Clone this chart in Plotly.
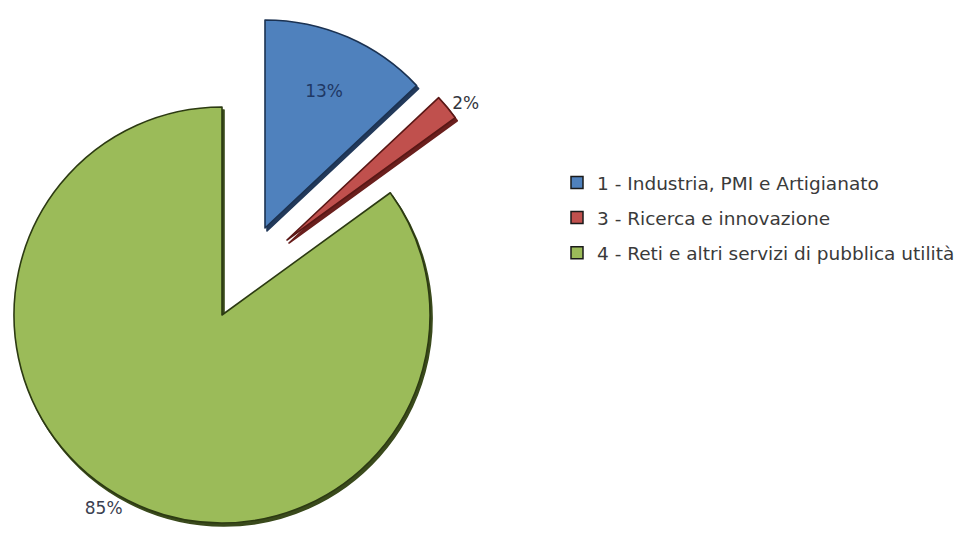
import plotly.graph_objects as go

# Funding share by intervention area
labels = [
    "1 - Industria, PMI e Artigianato",
    "3 - Ricerca e innovazione",
    "4 - Reti e altri servizi di pubblica utilità",
]
values = [13, 2, 85]

colors = ["#4f81bd", "#c0504d", "#9bbb59"]
edge_colors = ["#1b3252", "#5a1715", "#2c3a12"]
shadow_colors = ["#22395a", "#6a1f1d", "#3a4a1c"]
text_colors = ["#1f3864", "#333640", "#3a4050"]
text_pos = ["inside", "outside", "outside"]

W, H = 961, 533
R = 208  # pie radius in px
# apex of each exploded slice (px from top-left of the page)
apex = [(265, 228), (287, 240), (222, 315)]
SHADOW_DX, SHADOW_DY = 2, 3
CLEAR = "rgba(0,0,0,0)"
FONT = "DejaVu Sans"


def pie_domain(cx, cy):
    return dict(x=[(cx - R) / W, (cx + R) / W],
                y=[1 - (cy + R) / H, 1 - (cy - R) / H])


def slice_trace(k, shadow=False):
    """A full pie of the data in which only slice k is painted."""
    cx, cy = apex[k]
    if shadow:
        cx, cy = cx + SHADOW_DX, cy + SHADOW_DY
    fill = shadow_colors[k] if shadow else colors[k]
    n = len(values)
    return go.Pie(
        labels=labels,
        values=values,
        sort=False,
        direction="clockwise",
        rotation=0,
        domain=pie_domain(cx, cy),
        marker=dict(
            colors=[fill if i == k else CLEAR for i in range(n)],
            line=dict(
                color=[(shadow_colors[k] if shadow else edge_colors[k]) if i == k else CLEAR
                       for i in range(n)],
                width=[1.6 if i == k else 0 for i in range(n)],
            ),
        ),
        texttemplate=["" if (shadow or i != k) else "%{percent:.0%}" for i in range(n)],
        textposition=[text_pos[i] for i in range(n)],
        insidetextorientation="horizontal",
        textfont=dict(family=FONT, size=17, color=text_colors[k]),
        showlegend=False,
        hoverinfo="skip" if shadow else "label+percent",
    )


fig = go.Figure()

# drop shadows underneath, then the slices themselves
for k in (2, 1, 0):
    fig.add_trace(slice_trace(k, shadow=True))
for k in (2, 1, 0):
    fig.add_trace(slice_trace(k))

# legend entries
for i, lab in enumerate(labels):
    fig.add_trace(go.Scatter(
        x=[None], y=[None], mode="markers", name=lab,
        legendgroup=str(i),
        marker=dict(symbol="square", size=12, color=colors[i],
                    line=dict(color="#1a1a1a", width=1.5)),
    ))

fig.update_layout(
    width=W, height=H,
    margin=dict(l=0, r=0, t=0, b=0),
    paper_bgcolor="white",
    plot_bgcolor="white",
    xaxis=dict(visible=False),
    yaxis=dict(visible=False),
    showlegend=True,
    legend=dict(
        x=557 / W, y=1 - 164 / H, xanchor="left", yanchor="top",
        font=dict(family=FONT, size=18.5, color="#3a3a3a"),
        tracegroupgap=8,
        bgcolor="rgba(0,0,0,0)",
    ),
)

fig.write_html("out.html")
